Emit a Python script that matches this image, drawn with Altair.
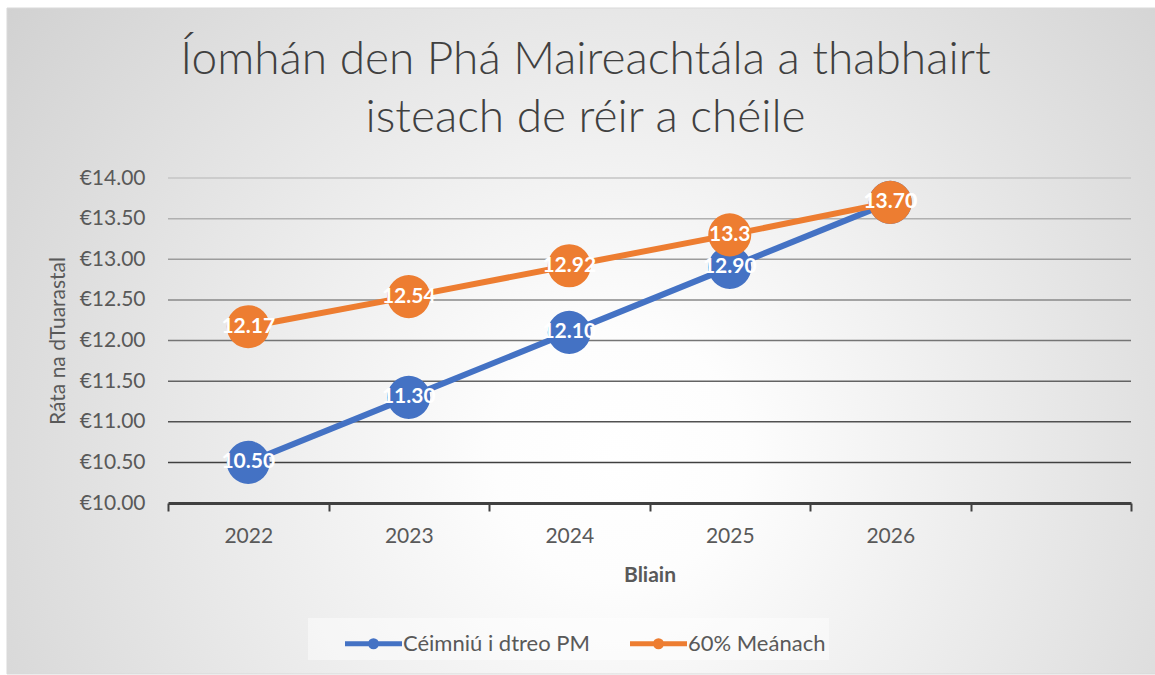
import altair as alt
import pandas as pd

# ---- data ----
years = ["2022", "2023", "2024", "2025", "2026"]
series_names = ["Céimniú i dtreo PM", "60% Meánach"]
pm_values = [10.50, 11.30, 12.10, 12.90, 13.70]
pm_labels = ["10.50", "11.30", "12.10", "12.90", "13.70"]
median_values = [12.17, 12.54, 12.92, 13.30, 13.70]
median_labels = ["12.17", "12.54", "12.92", "13.3", "13.70"]
y_ticks = [10.0, 10.5, 11.0, 11.5, 12.0, 12.5, 13.0, 13.5, 14.0]
grid_values = [10.5, 11.0, 11.5, 12.0, 12.5, 13.0, 13.5, 14.0]
title_lines = ["Íomhán den Phá Maireachtála a thabhairt", "isteach de réir a chéile"]
x_title = "Bliain"
y_title = "Ráta na dTuarastal"

BLUE = "#4472C4"
ORANGE = "#ED7D31"
TEXT = "#595959"
FONT = "Lato"

df = pd.DataFrame({
    "year": years * 2,
    "series": [series_names[0]] * 5 + [series_names[1]] * 5,
    "value": pm_values + median_values,
    "label": pm_labels + median_labels,
})
grid_df = pd.DataFrame({"v": grid_values})
bg_df = pd.DataFrame({"a": [0]})

x_domain = years + [" "]
x_enc = alt.X(
    "year:N",
    scale=alt.Scale(type="band", domain=x_domain, paddingInner=0, paddingOuter=0),
    axis=alt.Axis(
        title=x_title, titleFontWeight="bold", titleColor=TEXT, titleFontSize=21,
        titlePadding=18, labelFontSize=21, labelColor=TEXT, labelPadding=14,
        labelAngle=0, tickBand="extent", tickSize=8, tickWidth=2, tickColor="#404040",
        domainColor="#404040", domainWidth=3, grid=False, zindex=1,
    ),
)
y_scale = alt.Scale(domain=[10, 14], nice=False, zero=False)
y_enc = alt.Y(
    "value:Q",
    scale=y_scale,
    axis=alt.Axis(
        title=y_title, titleFontWeight="normal", titleColor=TEXT, titleFontSize=21,
        titlePadding=11, values=y_ticks,
        labelExpr="'€' + format(datum.value, '.2f')", labelFontSize=21,
        labelColor=TEXT, labelPadding=23, ticks=False, domain=False, grid=False, zindex=1,
    ),
)

W, H = 963, 325

background = alt.Chart(bg_df).mark_rect(
    fill={
        "gradient": "radial",
        "x1": 0.53, "y1": 0.6, "r1": 0,
        "x2": 0.53, "y2": 0.6, "r2": 0.9,
        "stops": [
            {"offset": 0, "color": "#ffffff"},
            {"offset": 0.12, "color": "#fdfdfd"},
            {"offset": 1, "color": "#bebebe"},
        ],
    },
    stroke="#d9d9d9", strokeWidth=1,
).encode(
    x=alt.value(-161), x2=alt.value(W + 30),
    y=alt.value(-170), y2=alt.value(H + 171),
)

grid = alt.Chart(grid_df).mark_rule(strokeWidth=1.5).encode(
    y=alt.Y("v:Q", scale=y_scale),
    stroke=alt.Stroke("v:Q", scale=alt.Scale(domain=[10.5, 14], range=["#404040", "#c4c4c4"]), legend=None),
)

color_enc = alt.Color(
    "series:N",
    scale=alt.Scale(domain=series_names, range=[BLUE, ORANGE]),
    legend=alt.Legend(title=None),
)


def series_layers(name, col):
    base = alt.Chart(df).transform_filter(alt.datum.series == name)
    line = base.mark_line(strokeWidth=6).encode(x=x_enc, y=y_enc, color=color_enc)
    pts = base.mark_circle(size=1850, opacity=1, color=col).encode(x=x_enc, y=y_enc)
    txt = base.mark_text(
        color="white", fontSize=21, fontWeight="bold", align="center", baseline="middle"
    ).encode(x=x_enc, y=y_enc, text="label:N")
    return [line, pts, txt]


layers = [background, grid] + series_layers(series_names[0], BLUE) + series_layers(series_names[1], ORANGE)

chart = alt.layer(*layers).properties(
    width=W, height=H,
    title=alt.TitleParams(
        text=title_lines, font=FONT, fontSize=46, fontWeight=300, color="#404040",
        lineHeight=58, anchor="middle", dx=-64, offset=0, dy=134, zindex=1,
    ),
    autosize=alt.AutoSizeParams(type="none"),
    padding={"left": 168, "top": 178, "right": 24, "bottom": 172},
    background="white",
).configure(font=FONT).configure_view(stroke=None).configure_legend(
    orient="none", legendX=140, legendY=440, direction="horizontal",
    fillColor="rgba(255,255,255,0.45)", padding=3,
    symbolType="M-1.425,0L1.425,0M-0.15,0A0.15,0.15 0 1,0 0.15,0A0.15,0.15 0 1,0 -0.15,0",
    symbolSize=1600, symbolStrokeWidth=5, symbolOffset=40, labelOffset=7,
    columnPadding=6, labelFontSize=22, labelColor=TEXT, labelFont=FONT, labelLimit=400,
)

chart.save("out.html", embed_options={"renderer": "svg", "actions": False})
